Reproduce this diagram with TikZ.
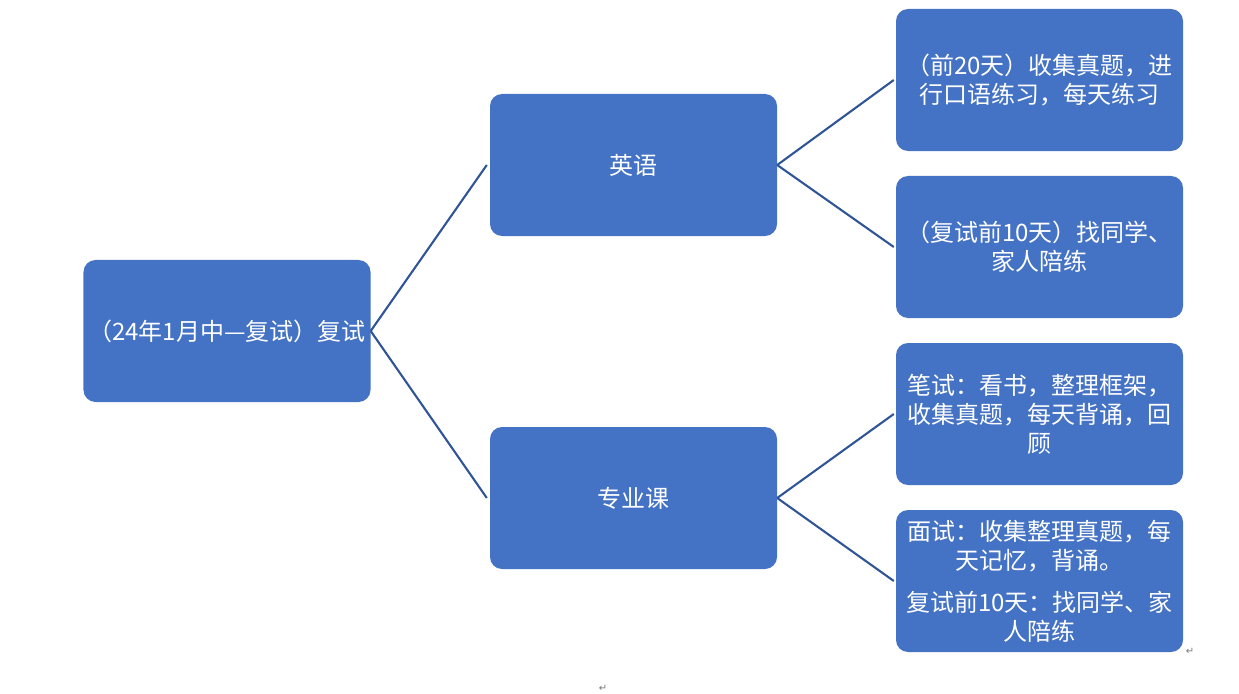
\documentclass[tikz,border=0pt]{standalone}
\usepackage{fontspec}
\setmainfont{Noto Sans CJK SC}
\newfontfamily\symfont{DejaVu Sans}
\definecolor{boxblue}{RGB}{68,114,196}
\definecolor{lineblue}{RGB}{47,85,151}
\definecolor{markgray}{RGB}{120,120,120}
\begin{document}
\begin{tikzpicture}[x=1bp,y=-1bp,
  box/.style={rectangle, rounded corners=12bp, fill=boxblue, draw=none,
    minimum width=287bp, minimum height=142bp, inner sep=0pt,
    text=white, align=center, font=\fontsize{24bp}{29bp}\selectfont},
  conn/.style={draw=lineblue, line width=2.1bp},
  pmark/.style={text=markgray, font=\symfont\fontsize{10bp}{11bp}\selectfont, inner sep=0pt}]
\useasboundingbox (0,0) rectangle (1239,694);
\node[box] (root) at (227,331) {（24年1月中—复试）复试};
\node[box] (en) at (633.5,165) {英语};
\node[box] (pro) at (633.5,498) {专业课};
\node[box] (b1) at (1039.5,80) {（前20天）收集真题，进\\行口语练习，每天练习};
\node[box] (b2) at (1039.5,247) {（复试前10天）找同学、\\家人陪练};
\node[box] (b3) at (1039.5,414) {笔试：看书，整理框架，\\收集真题，每天背诵，回\\顾};
\node[box] (b4) at (1039.5,581) {面试：收集整理真题，每\\天记忆，背诵。\\[13bp]复试前10天：找同学、家\\人陪练};
\draw[conn] (root.east) -- ([xshift=-3bp]en.west);
\draw[conn] (root.east) -- ([xshift=-3bp]pro.west);
\draw[conn] (en.east) -- ([xshift=-2bp]b1.west);
\draw[conn] (en.east) -- ([xshift=-2bp]b2.west);
\draw[conn] (pro.east) -- ([xshift=-2bp]b3.west);
\draw[conn] (pro.east) -- ([xshift=-2bp]b4.west);
\node[pmark] (m1) at (1190,651) {↵};
\node[pmark] (m2) at (603,688) {↵};
\end{tikzpicture}
\end{document}
